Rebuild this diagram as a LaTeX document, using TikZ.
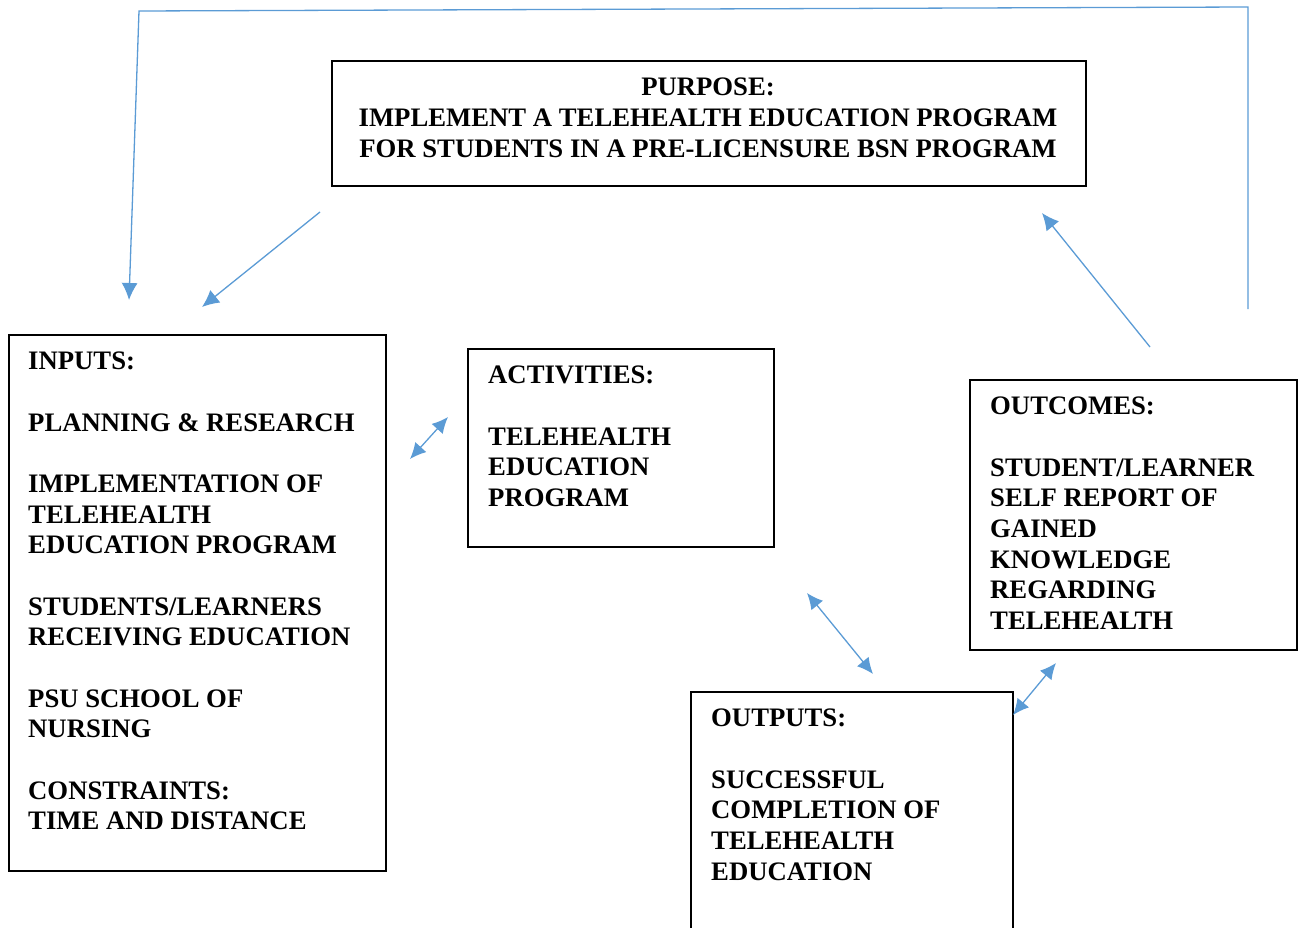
\documentclass[tikz,border=0pt]{standalone}
\usepackage{fontspec}
\setmainfont{Liberation Serif}
\usetikzlibrary{arrows.meta}
\definecolor{linkblue}{HTML}{5B9BD5}
\begin{document}
\begin{tikzpicture}[x=1pt,y=-1pt,
		frame/.style={draw,line width=2pt,anchor=north west,inner sep=0pt},
		txt/.style={font=\fontsize{26.7}{30.67}\selectfont\bfseries,align=left,anchor=north west,inner sep=0pt},
		link/.style={draw=linkblue,line width=1.3pt},
		single/.style={-{Latex[length=17pt,width=16pt]}},
		double/.style={{Latex[length=16pt,width=15pt]}-{Latex[length=16pt,width=15pt]}}]
			\useasboundingbox (0,0) rectangle (1301,928);
			\clip (0,0) rectangle (1301,928);
			
			\node [frame,minimum width=754pt,minimum height=125pt] (Purpose) at (331,60) {};
			\node [frame,minimum width=377pt,minimum height=536pt] (Inputs) at (8,334) {};
			\node [frame,minimum width=306pt,minimum height=198pt] (Activities) at (467,348) {};
			\node [frame,minimum width=327pt,minimum height=270pt] (Outcomes) at (969,379) {};
			\node [frame,minimum width=322pt,minimum height=300pt] (Outputs) at (690,691) {};
			
			\node [txt,align=center,anchor=north] (PurposeT) at (708,78) {PURPOSE:\\IMPLEMENT A TELEHEALTH EDUCATION PROGRAM\\FOR STUDENTS IN A PRE-LICENSURE BSN PROGRAM};
			\node [txt] (InputsT) at (28,352) {INPUTS:\\[30.67pt]PLANNING \& RESEARCH\\[30.67pt]IMPLEMENTATION OF\\TELEHEALTH\\EDUCATION PROGRAM\\[30.67pt]STUDENTS/LEARNERS\\RECEIVING EDUCATION\\[30.67pt]PSU SCHOOL OF\\NURSING\\[30.67pt]CONSTRAINTS:\\TIME AND DISTANCE};
			\node [txt] (ActivitiesT) at (488,366) {ACTIVITIES:\\[30.67pt]TELEHEALTH\\EDUCATION\\PROGRAM};
			\node [txt] (OutcomesT) at (990,397) {OUTCOMES:\\[30.67pt]STUDENT/LEARNER\\SELF REPORT OF\\GAINED\\KNOWLEDGE\\REGARDING\\TELEHEALTH};
			\node [txt] (OutputsT) at (711,709) {OUTPUTS:\\[30.67pt]SUCCESSFUL\\COMPLETION OF\\TELEHEALTH\\EDUCATION};
			
			\coordinate (F1) at (1248,309);
			\coordinate (F2) at (1248,7);
			\coordinate (F3) at (139,11);
			\coordinate (F4) at (129,300);
			\coordinate (P1) at (320,212);
			\coordinate (P2) at (202,307);
			\coordinate (O1) at (1150,347);
			\coordinate (O2) at (1042,213);
			\coordinate (A1) at (410,459);
			\coordinate (A2) at (448,417);
			\coordinate (B1) at (807,593);
			\coordinate (B2) at (873,674);
			\coordinate (C1) at (1013,715);
			\coordinate (C2) at (1056,663);
			
			\draw [link,single] (F1) -- (F2) -- (F3) -- (F4);
			\draw [link,single] (P1) -- (P2);
			\draw [link,single] (O1) -- (O2);
			\draw [link,double] (A1) -- (A2);
			\draw [link,double] (B1) -- (B2);
			\draw [link,double] (C1) -- (C2);
		\end{tikzpicture}
\end{document}
